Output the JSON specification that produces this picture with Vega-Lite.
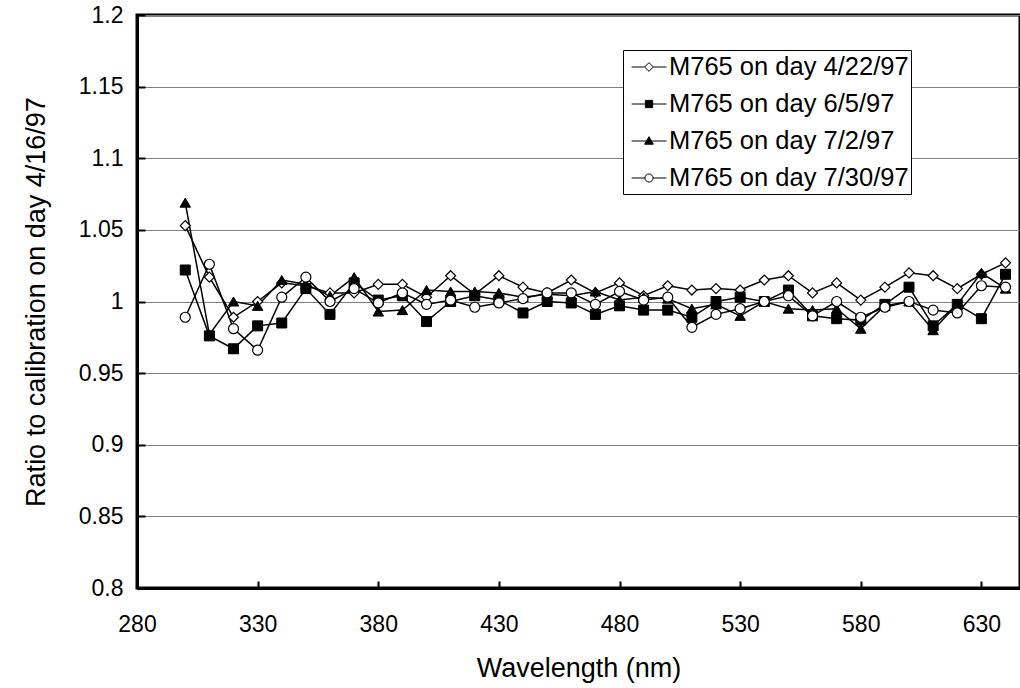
{
  "$schema": "https://vega.github.io/schema/vega-lite/v6.json",
  "width": 883,
  "height": 573,
  "autosize": "none",
  "padding": {"left": 137, "top": 15, "right": 0, "bottom": 100},
  "background": "white",
  "config": {
    "font": "Liberation Sans",
    "view": {"stroke": "black", "strokeWidth": 3}
  },
  "data": {
    "values": [
      {"wl":300,"series":"M765 on day 4/22/97","ratio":1.053},{"wl":300,"series":"M765 on day 6/5/97","ratio":1.022},{"wl":300,"series":"M765 on day 7/2/97","ratio":1.069},{"wl":300,"series":"M765 on day 7/30/97","ratio":0.989},
      {"wl":310,"series":"M765 on day 4/22/97","ratio":1.017},{"wl":310,"series":"M765 on day 6/5/97","ratio":0.976},{"wl":310,"series":"M765 on day 7/2/97","ratio":0.977},{"wl":310,"series":"M765 on day 7/30/97","ratio":1.026},
      {"wl":320,"series":"M765 on day 4/22/97","ratio":0.989},{"wl":320,"series":"M765 on day 6/5/97","ratio":0.967},{"wl":320,"series":"M765 on day 7/2/97","ratio":1.000},{"wl":320,"series":"M765 on day 7/30/97","ratio":0.981},
      {"wl":330,"series":"M765 on day 4/22/97","ratio":1.000},{"wl":330,"series":"M765 on day 6/5/97","ratio":0.983},{"wl":330,"series":"M765 on day 7/2/97","ratio":0.997},{"wl":330,"series":"M765 on day 7/30/97","ratio":0.966},
      {"wl":340,"series":"M765 on day 4/22/97","ratio":1.013},{"wl":340,"series":"M765 on day 6/5/97","ratio":0.985},{"wl":340,"series":"M765 on day 7/2/97","ratio":1.015},{"wl":340,"series":"M765 on day 7/30/97","ratio":1.003},
      {"wl":350,"series":"M765 on day 4/22/97","ratio":1.011},{"wl":350,"series":"M765 on day 6/5/97","ratio":1.009},{"wl":350,"series":"M765 on day 7/2/97","ratio":1.012},{"wl":350,"series":"M765 on day 7/30/97","ratio":1.017},
      {"wl":360,"series":"M765 on day 4/22/97","ratio":1.006},{"wl":360,"series":"M765 on day 6/5/97","ratio":0.991},{"wl":360,"series":"M765 on day 7/2/97","ratio":1.004},{"wl":360,"series":"M765 on day 7/30/97","ratio":1.000},
      {"wl":370,"series":"M765 on day 4/22/97","ratio":1.006},{"wl":370,"series":"M765 on day 6/5/97","ratio":1.013},{"wl":370,"series":"M765 on day 7/2/97","ratio":1.017},{"wl":370,"series":"M765 on day 7/30/97","ratio":1.009},
      {"wl":380,"series":"M765 on day 4/22/97","ratio":1.012},{"wl":380,"series":"M765 on day 6/5/97","ratio":1.001},{"wl":380,"series":"M765 on day 7/2/97","ratio":0.993},{"wl":380,"series":"M765 on day 7/30/97","ratio":0.999},
      {"wl":390,"series":"M765 on day 4/22/97","ratio":1.012},{"wl":390,"series":"M765 on day 6/5/97","ratio":1.004},{"wl":390,"series":"M765 on day 7/2/97","ratio":0.994},{"wl":390,"series":"M765 on day 7/30/97","ratio":1.006},
      {"wl":400,"series":"M765 on day 4/22/97","ratio":1.003},{"wl":400,"series":"M765 on day 6/5/97","ratio":0.986},{"wl":400,"series":"M765 on day 7/2/97","ratio":1.008},{"wl":400,"series":"M765 on day 7/30/97","ratio":0.998},
      {"wl":410,"series":"M765 on day 4/22/97","ratio":1.018},{"wl":410,"series":"M765 on day 6/5/97","ratio":1.000},{"wl":410,"series":"M765 on day 7/2/97","ratio":1.007},{"wl":410,"series":"M765 on day 7/30/97","ratio":1.001},
      {"wl":420,"series":"M765 on day 4/22/97","ratio":1.005},{"wl":420,"series":"M765 on day 6/5/97","ratio":1.004},{"wl":420,"series":"M765 on day 7/2/97","ratio":1.007},{"wl":420,"series":"M765 on day 7/30/97","ratio":0.996},
      {"wl":430,"series":"M765 on day 4/22/97","ratio":1.018},{"wl":430,"series":"M765 on day 6/5/97","ratio":1.001},{"wl":430,"series":"M765 on day 7/2/97","ratio":1.006},{"wl":430,"series":"M765 on day 7/30/97","ratio":0.999},
      {"wl":440,"series":"M765 on day 4/22/97","ratio":1.010},{"wl":440,"series":"M765 on day 6/5/97","ratio":0.992},{"wl":440,"series":"M765 on day 7/2/97","ratio":1.003},{"wl":440,"series":"M765 on day 7/30/97","ratio":1.002},
      {"wl":450,"series":"M765 on day 4/22/97","ratio":1.006},{"wl":450,"series":"M765 on day 6/5/97","ratio":1.000},{"wl":450,"series":"M765 on day 7/2/97","ratio":1.005},{"wl":450,"series":"M765 on day 7/30/97","ratio":1.006},
      {"wl":460,"series":"M765 on day 4/22/97","ratio":1.015},{"wl":460,"series":"M765 on day 6/5/97","ratio":0.999},{"wl":460,"series":"M765 on day 7/2/97","ratio":1.004},{"wl":460,"series":"M765 on day 7/30/97","ratio":1.006},
      {"wl":470,"series":"M765 on day 4/22/97","ratio":1.006},{"wl":470,"series":"M765 on day 6/5/97","ratio":0.991},{"wl":470,"series":"M765 on day 7/2/97","ratio":1.007},{"wl":470,"series":"M765 on day 7/30/97","ratio":0.998},
      {"wl":480,"series":"M765 on day 4/22/97","ratio":1.013},{"wl":480,"series":"M765 on day 6/5/97","ratio":0.997},{"wl":480,"series":"M765 on day 7/2/97","ratio":1.001},{"wl":480,"series":"M765 on day 7/30/97","ratio":1.007},
      {"wl":490,"series":"M765 on day 4/22/97","ratio":1.004},{"wl":490,"series":"M765 on day 6/5/97","ratio":0.994},{"wl":490,"series":"M765 on day 7/2/97","ratio":1.003},{"wl":490,"series":"M765 on day 7/30/97","ratio":1.001},
      {"wl":500,"series":"M765 on day 4/22/97","ratio":1.011},{"wl":500,"series":"M765 on day 6/5/97","ratio":0.994},{"wl":500,"series":"M765 on day 7/2/97","ratio":1.002},{"wl":500,"series":"M765 on day 7/30/97","ratio":1.003},
      {"wl":510,"series":"M765 on day 4/22/97","ratio":1.008},{"wl":510,"series":"M765 on day 6/5/97","ratio":0.989},{"wl":510,"series":"M765 on day 7/2/97","ratio":0.995},{"wl":510,"series":"M765 on day 7/30/97","ratio":0.982},
      {"wl":520,"series":"M765 on day 4/22/97","ratio":1.009},{"wl":520,"series":"M765 on day 6/5/97","ratio":1.000},{"wl":520,"series":"M765 on day 7/2/97","ratio":0.998},{"wl":520,"series":"M765 on day 7/30/97","ratio":0.991},
      {"wl":530,"series":"M765 on day 4/22/97","ratio":1.008},{"wl":530,"series":"M765 on day 6/5/97","ratio":1.003},{"wl":530,"series":"M765 on day 7/2/97","ratio":0.990},{"wl":530,"series":"M765 on day 7/30/97","ratio":0.995},
      {"wl":540,"series":"M765 on day 4/22/97","ratio":1.015},{"wl":540,"series":"M765 on day 6/5/97","ratio":1.000},{"wl":540,"series":"M765 on day 7/2/97","ratio":1.000},{"wl":540,"series":"M765 on day 7/30/97","ratio":1.000},
      {"wl":550,"series":"M765 on day 4/22/97","ratio":1.018},{"wl":550,"series":"M765 on day 6/5/97","ratio":1.008},{"wl":550,"series":"M765 on day 7/2/97","ratio":0.995},{"wl":550,"series":"M765 on day 7/30/97","ratio":1.004},
      {"wl":560,"series":"M765 on day 4/22/97","ratio":1.006},{"wl":560,"series":"M765 on day 6/5/97","ratio":0.990},{"wl":560,"series":"M765 on day 7/2/97","ratio":0.994},{"wl":560,"series":"M765 on day 7/30/97","ratio":0.990},
      {"wl":570,"series":"M765 on day 4/22/97","ratio":1.013},{"wl":570,"series":"M765 on day 6/5/97","ratio":0.988},{"wl":570,"series":"M765 on day 7/2/97","ratio":0.995},{"wl":570,"series":"M765 on day 7/30/97","ratio":1.000},
      {"wl":580,"series":"M765 on day 4/22/97","ratio":1.001},{"wl":580,"series":"M765 on day 6/5/97","ratio":0.987},{"wl":580,"series":"M765 on day 7/2/97","ratio":0.981},{"wl":580,"series":"M765 on day 7/30/97","ratio":0.989},
      {"wl":590,"series":"M765 on day 4/22/97","ratio":1.010},{"wl":590,"series":"M765 on day 6/5/97","ratio":0.998},{"wl":590,"series":"M765 on day 7/2/97","ratio":0.997},{"wl":590,"series":"M765 on day 7/30/97","ratio":0.996},
      {"wl":600,"series":"M765 on day 4/22/97","ratio":1.020},{"wl":600,"series":"M765 on day 6/5/97","ratio":1.010},{"wl":600,"series":"M765 on day 7/2/97","ratio":1.000},{"wl":600,"series":"M765 on day 7/30/97","ratio":1.000},
      {"wl":610,"series":"M765 on day 4/22/97","ratio":1.018},{"wl":610,"series":"M765 on day 6/5/97","ratio":0.983},{"wl":610,"series":"M765 on day 7/2/97","ratio":0.980},{"wl":610,"series":"M765 on day 7/30/97","ratio":0.994},
      {"wl":620,"series":"M765 on day 4/22/97","ratio":1.009},{"wl":620,"series":"M765 on day 6/5/97","ratio":0.998},{"wl":620,"series":"M765 on day 7/2/97","ratio":0.998},{"wl":620,"series":"M765 on day 7/30/97","ratio":0.992},
      {"wl":630,"series":"M765 on day 4/22/97","ratio":1.019},{"wl":630,"series":"M765 on day 6/5/97","ratio":0.988},{"wl":630,"series":"M765 on day 7/2/97","ratio":1.020},{"wl":630,"series":"M765 on day 7/30/97","ratio":1.011},
      {"wl":640,"series":"M765 on day 4/22/97","ratio":1.027},{"wl":640,"series":"M765 on day 6/5/97","ratio":1.019},{"wl":640,"series":"M765 on day 7/2/97","ratio":1.009},{"wl":640,"series":"M765 on day 7/30/97","ratio":1.010}
    ]
  },
  "encoding": {
    "x": {
      "field": "wl", "type": "quantitative",
      "scale": {"domain": [280, 646], "nice": false, "zero": false},
      "axis": {
        "values": [280, 330, 380, 430, 480, 530, 580, 630],
        "title": "Wavelength (nm)",
        "grid": false,
        "tickSize": -7, "tickWidth": 2, "tickColor": "black",
        "domainColor": "black", "domainWidth": 3,
        "labelFontSize": 23, "labelColor": "black", "labelPadding": 32,
        "labelFlush": false, "labelOverlap": false,
        "titleFontSize": 27, "titleFontWeight": "normal", "titleColor": "black", "titlePadding": 19
      }
    },
    "y": {
      "field": "ratio", "type": "quantitative",
      "scale": {"domain": [0.8, 1.2], "nice": false, "zero": false},
      "axis": {
        "values": [0.8, 0.85, 0.9, 0.95, 1.0, 1.05, 1.1, 1.15, 1.2],
        "format": "~g",
        "title": "Ratio to calibration on day 4/16/97",
        "grid": true, "gridColor": "#808080", "gridWidth": 1,
        "tickSize": -8, "tickWidth": 2, "tickColor": "black",
        "domainColor": "black", "domainWidth": 3,
        "labelFontSize": 23, "labelColor": "black", "labelPadding": 22,
        "labelFlush": false, "labelOverlap": false,
        "titleFontSize": 27, "titleFontWeight": "normal", "titleColor": "black", "titlePadding": 28
      }
    }
  },
  "layer": [
    {
      "mark": {"type": "line", "color": "black", "strokeWidth": 1.5},
      "encoding": {"detail": {"field": "series", "type": "nominal"}}
    },
    {
      "transform": [{"filter": "datum.series == 'M765 on day 4/22/97'"}],
      "mark": {"type": "point", "shape": "diamond", "filled": true, "fill": "white", "stroke": "black", "strokeWidth": 1.2, "size": 100, "opacity": 1}
    },
    {
      "transform": [{"filter": "datum.series == 'M765 on day 6/5/97'"}],
      "mark": {"type": "point", "shape": "square", "filled": true, "fill": "black", "stroke": "black", "strokeWidth": 1, "size": 100, "opacity": 1}
    },
    {
      "transform": [{"filter": "datum.series == 'M765 on day 7/2/97'"}],
      "mark": {"type": "point", "shape": "triangle-up", "filled": true, "fill": "black", "stroke": "black", "strokeWidth": 1, "size": 110, "opacity": 1}
    },
    {
      "transform": [{"filter": "datum.series == 'M765 on day 7/30/97'"}],
      "mark": {"type": "point", "shape": "circle", "filled": true, "fill": "white", "stroke": "black", "strokeWidth": 1.2, "size": 100, "opacity": 1}
    },
    {
      "transform": [{"filter": "datum.wl < 0"}],
      "mark": {"type": "point", "filled": true, "strokeWidth": 1, "size": 841, "opacity": 1},
      "encoding": {
        "shape": {
          "field": "series", "type": "nominal",
          "scale": {"domain": ["M765 on day 4/22/97", "M765 on day 6/5/97", "M765 on day 7/2/97", "M765 on day 7/30/97"],
                    "range": [
                      "M-1.2,0H-0.3M0.3,0H1.2M0,-0.3L0.3,0L0,0.3L-0.3,0Z",
                      "M-1.2,0H-0.25M0.25,0H1.2M-0.25,-0.25H0.25V0.25H-0.25Z",
                      "M-1.2,0H-0.17M0.17,0H1.2M0,-0.3L0.3,0.22L-0.3,0.22Z",
                      "M-1.2,0H-0.28M0.28,0H1.2M0.28,0A0.28,0.28 0 1,1 -0.28,0A0.28,0.28 0 1,1 0.28,0Z"
                    ]},
          "legend": {
            "title": null, "orient": "none", "legendX": 486, "legendY": 35,
            "fillColor": "white", "strokeColor": "black",
            "padding": 2, "rowPadding": 8,
            "symbolSize": 841, "symbolStrokeWidth": 1, "symbolOpacity": 1,
            "symbolOffset": 9, "labelOffset": 5,
            "labelFontSize": 25.5, "labelColor": "black", "labelLimit": 400
          }
        },
        "fill": {
          "field": "series", "type": "nominal",
          "scale": {"domain": ["M765 on day 4/22/97", "M765 on day 6/5/97", "M765 on day 7/2/97", "M765 on day 7/30/97"],
                    "range": ["white", "black", "black", "white"]}
        },
        "stroke": {
          "field": "series", "type": "nominal",
          "scale": {"domain": ["M765 on day 4/22/97", "M765 on day 6/5/97", "M765 on day 7/2/97", "M765 on day 7/30/97"],
                    "range": ["black", "black", "black", "black"]}
        }
      }
    }
  ]
}
